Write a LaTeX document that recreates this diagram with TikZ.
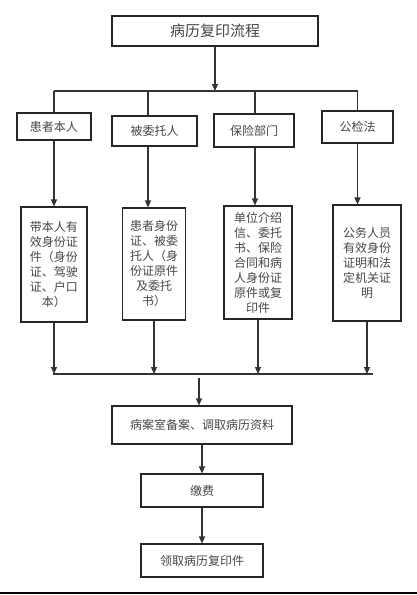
\documentclass[tikz,border=0pt]{standalone}
\usepackage{fontspec}
\setmainfont{Noto Sans CJK SC}
\usepackage{xcolor}
\usepackage{tikz}
\usetikzlibrary{arrows.meta}
\definecolor{linegray}{RGB}{51, 51, 51}
\definecolor{textgray}{RGB}{70, 70, 70}

\begin{document}
\begin{tikzpicture}[x=1pt, y=-1pt,
    box/.style={draw=black!85, line width=1.1pt, inner sep=0pt, align=center, text=textgray, font=\fontsize{12}{15}\selectfont},
    line/.style={draw=linegray, line width=1.1pt},
    arrow/.style={line, -{Triangle[length=7pt, width=6pt]}}
]
    \useasboundingbox (0,0) rectangle (417,595);

    % Title
    \node[box, minimum width=206pt, minimum height=30pt, font=\fontsize{15}{18}\selectfont] (title) at (215,31) {病历复印流程};

    % Applicants
    \node[box, minimum width=74pt, minimum height=27pt] (self) at (54,126.5) {患者本人};
    \node[box, minimum width=85pt, minimum height=30pt] (agent) at (154.5,131) {被委托人};
    \node[box, minimum width=80pt, minimum height=33pt] (insur) at (254,130.5) {保险部门};
    \node[box, minimum width=71pt, minimum height=32pt] (police) at (357.5,127) {公检法};

    % Documents
    \node[box, minimum width=66pt, minimum height=115pt] (selfdoc) at (54,264.5) {带本人有\\效身份证\\件（身份\\证、驾驶\\证、户口\\本）};
    \node[box, minimum width=63pt, minimum height=112pt] (agentdoc) at (154,264) {患者身份\\证、被委\\托人（身\\份证原件\\及委托\\书）};
    \node[box, minimum width=68pt, minimum height=113pt] (insurdoc) at (258,262.5) {单位介绍\\信、委托\\书、保险\\合同和病\\人身份证\\原件或复\\印件};
    \node[box, minimum width=68pt, minimum height=116pt] (policedoc) at (367,263) {公务人员\\有效身份\\证明和法\\定机关证\\明};

    % Steps
    \node[box, minimum width=180pt, minimum height=38pt] (record) at (202,425) {病案室备案、调取病历资料};
    \node[box, minimum width=122pt, minimum height=33pt] (pay) at (202,490.5) {缴费};
    \node[box, minimum width=122pt, minimum height=33pt] (collect) at (202,560.5) {领取病历复印件};

    % Buses
    \coordinate (split) at (215,91);
    \coordinate (joinl) at (53,374);
    \coordinate (joinr) at (373,374);
    \coordinate (join) at (199,378);

    % Arrows
    \draw[arrow] (title) -- (split);
    \draw[line] (self.north |- split) -- (police.north |- split);
    \draw[line] (self.north |- split) -- (self.north);
    \draw[line] ([xshift=-6.5pt]agent.north |- split) -- ([xshift=-6.5pt]agent.north);
    \draw[line] ([xshift=1pt]insur.north |- split) -- ([xshift=1pt]insur.north);
    \draw[line] (police.north |- split) -- (police.north);

    \draw[arrow] (self.south) -- (self.south |- selfdoc.north);
    \draw[arrow] ([xshift=-6.5pt]agent.south) -- ([xshift=-6.5pt]agent.south |- agentdoc.north);
    \draw[arrow] ([xshift=1pt]insur.south) -- ([xshift=1pt]insur.south |- insurdoc.north);
    \draw[arrow] (police.south) -- (police.south |- policedoc.north);

    \draw[line] (joinl) -- (joinr);
    \draw[arrow] (selfdoc.south) -- (selfdoc.south |- joinl);
    \draw[arrow] (agentdoc.south) -- (agentdoc.south |- joinl);
    \draw[arrow] (insurdoc.south) -- (insurdoc.south |- joinl);
    \draw[arrow] (policedoc.south) -- (policedoc.south |- joinl);

    \draw[arrow] (join) -- (join |- record.north);
    \draw[arrow] (record) -- (pay);
    \draw[arrow] (pay) -- (collect);

    % Bottom rule
    \draw[black, line width=1.5pt] (0,593) -- (417,593);
\end{tikzpicture}
\end{document}
